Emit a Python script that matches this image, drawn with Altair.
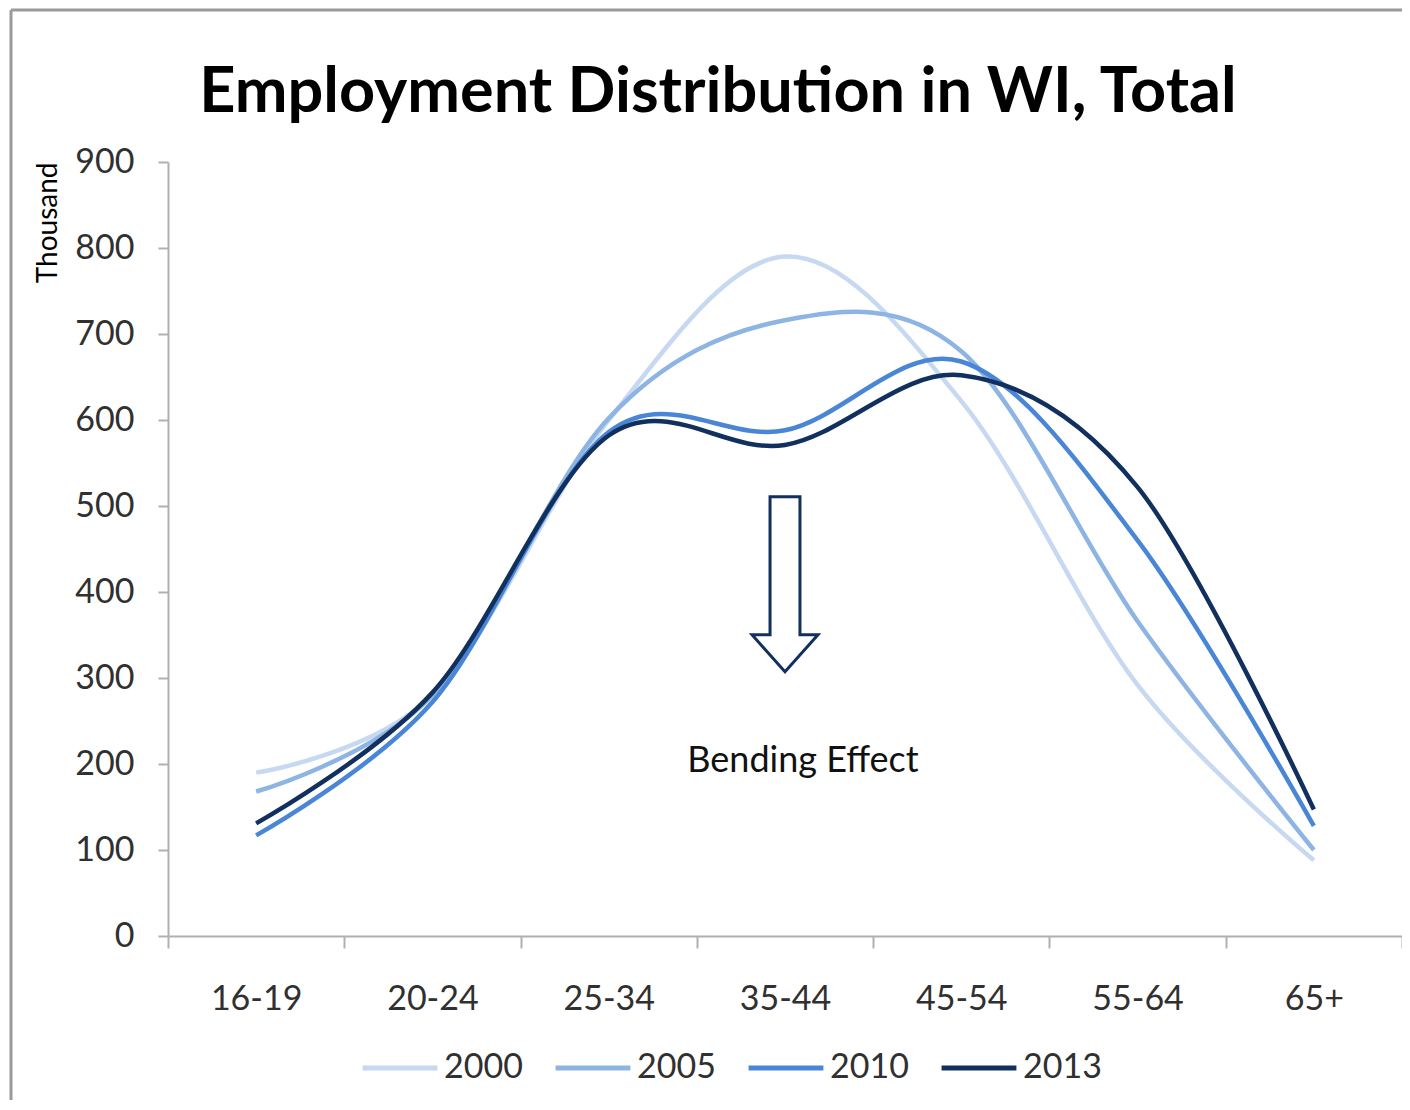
import altair as alt
import pandas as pd

categories = ["16-19", "20-24", "25-34", "35-44", "45-54", "55-64", "65+"]
years = ["2000", "2005", "2010", "2013"]
v2000 = [190, 280, 600, 790, 622, 292, 88]
v2005 = [168, 280, 602, 716, 680, 366, 100]
v2010 = [117, 272, 586, 588, 668, 460, 128]
v2013 = [131, 283, 582, 571, 652, 522, 147]
colors = ["#c6d9f1", "#8db4e3", "#4a86d6", "#12305e"]
title_text = "Employment Distribution in WI, Total"

series = {"2000": v2000, "2005": v2005, "2010": v2010, "2013": v2013}
rows = []
for y in years:
    for c, v in zip(categories, series[y]):
        rows.append({"age": c, "value": v, "year": y})
df = pd.DataFrame(rows)

FONT = "Lato"
W, H = 1234, 774

xenc = alt.X("age:N", sort=categories, scale=alt.Scale(domain=categories, paddingInner=0, paddingOuter=0),
             axis=alt.Axis(title=None, labelAngle=0, tickBand="extent", tickSize=12, tickWidth=2,
                           tickColor="#b0b0b0", domainColor="#b0b0b0", domainWidth=2,
                           labelFont=FONT, labelFontSize=34, labelColor="#303030", labelPadding=34))
yenc = alt.Y("value:Q", scale=alt.Scale(domain=[0, 900], nice=False),
             axis=alt.Axis(values=list(range(0, 901, 100)), grid=False, tickSize=10, tickWidth=2,
                           tickColor="#b0b0b0", domainColor="#b0b0b0", domainWidth=2,
                           labelFont=FONT, labelFontSize=34, labelColor="#303030", labelPadding=24,
                           title="Thousand", titleFont=FONT, titleFontSize=28, titleFontWeight="normal",
                           titleColor="#000000", titleAngle=-90, titleX=-120, titleY=0,
                           titleAlign="right", titleBaseline="middle"))

lines = alt.Chart(df).mark_line(interpolate="cardinal", strokeWidth=4.5).encode(
    x=xenc,
    y=yenc,
    color=alt.Color("year:N", scale=alt.Scale(domain=years, range=colors),
                    legend=alt.Legend(title=None, orient="none", direction="horizontal",
                                      legendX=192, legendY=866, symbolType="stroke",
                                      symbolSize=5600, symbolStrokeWidth=5,
                                      labelFont=FONT, labelFontSize=34, labelColor="#303030",
                                      labelOffset=4, columnPadding=22)),
    detail="year:N",
)

ann_df = pd.DataFrame({"age": ["35-44"], "arrow_y": [409], "text_y": [204],
                       "label": ["Bending Effect"], "title": [title_text]})
arrow_path = "M -0.171 -1 L 0.171 -1 L 0.171 0.577 L 0.377 0.577 L 0 1 L -0.377 0.577 L -0.171 0.577 Z"
arrow = alt.Chart(ann_df).mark_point(shape=arrow_path, size=30625, filled=True, fill="white",
                                     stroke="#12305e", strokeWidth=3, opacity=1).encode(
    x=alt.X("age:N", sort=categories), y=alt.Y("arrow_y:Q"))
text = alt.Chart(ann_df).mark_text(font=FONT, fontSize=36, color="#111111", dx=18).encode(
    x=alt.X("age:N", sort=categories), y=alt.Y("text_y:Q"), text="label:N")

title_mark = alt.Chart(ann_df).mark_text(font=FONT, fontSize=63, fontWeight="bold", color="#000000",
                                         align="center", baseline="alphabetic").encode(
    x=alt.value(550), y=alt.value(-50), text="title:N")

frame_left = alt.Chart(ann_df).mark_rule(color="#9a9a9a", strokeWidth=3).encode(
    x=alt.value(-157), y=alt.value(-152), y2=alt.value(H + 180))
frame_top = alt.Chart(ann_df).mark_rule(color="#9a9a9a", strokeWidth=3).encode(
    x=alt.value(-157), x2=alt.value(W + 10), y=alt.value(-152))

chart = alt.layer(frame_left, frame_top, title_mark, lines, arrow, text).properties(
    width=W, height=H,
    autosize=alt.AutoSizeParams(type="none"),
    padding={"left": 160, "top": 154, "right": 0, "bottom": 164},
).configure(background="white").configure_view(stroke=None)

chart.save("out.html", embed_options={"renderer": "svg", "actions": False})
